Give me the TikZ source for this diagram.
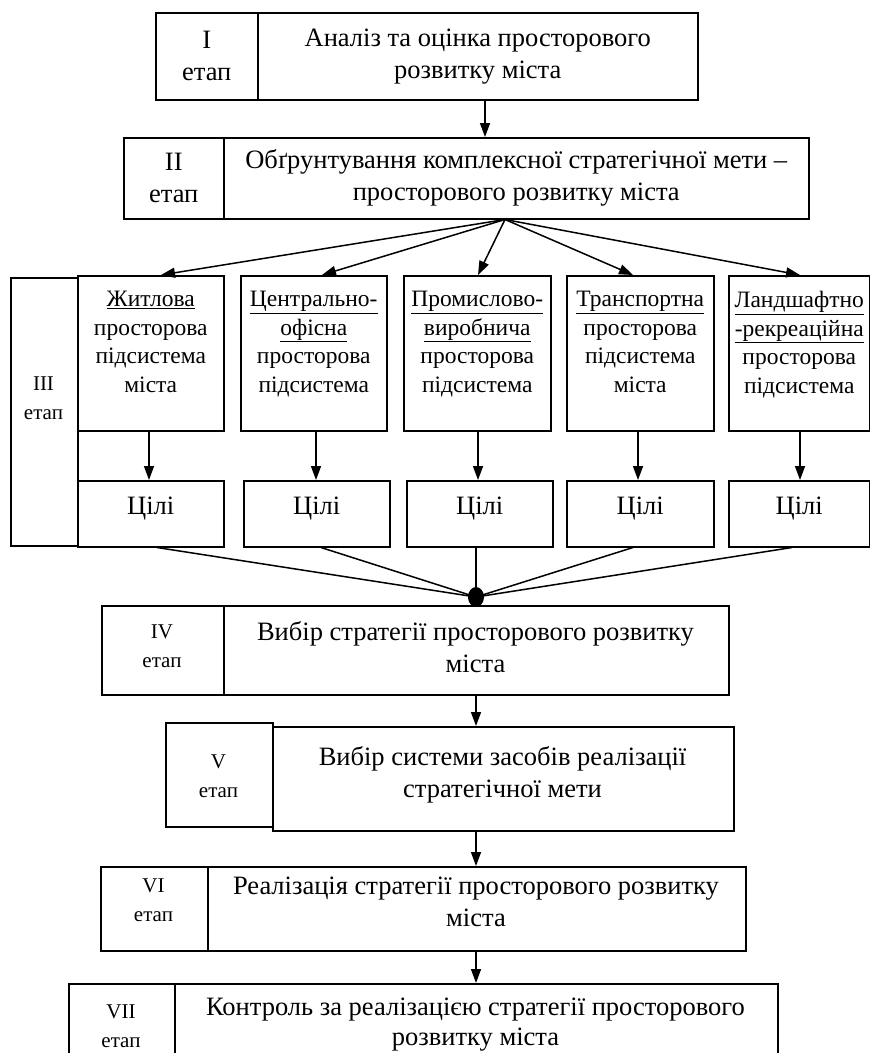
\documentclass[tikz,border=0pt]{standalone}
\usepackage{fontspec}
\setmainfont{Liberation Serif}
\usetikzlibrary{arrows.meta,calc,shapes.geometric}
\begin{document}
\begin{tikzpicture}[x=1pt,y=-1pt,
  box/.style={draw, line width=1.5pt, anchor=north west, inner sep=0pt},
  txt/.style={inner sep=0pt, align=center, font=\fontsize{26.5}{32}\selectfont},
  stxt/.style={inner sep=0pt, align=center, font=\fontsize{23.5}{28.5}\selectfont},
  etxt/.style={inner sep=0pt, align=center, font=\fontsize{21}{29}\selectfont},
  arr/.style={line width=1.5pt, -{Triangle[length=14pt,width=10pt]}},
  ln/.style={line width=1.5pt},
  dot/.style={ellipse, fill=black, inner sep=0pt, minimum width=16pt, minimum height=20pt}]
\useasboundingbox (0,0) rectangle (870,1053);
% Stage I
\node[box, minimum width=102pt, minimum height=87pt] (e1) at (155,12) {};
\node[box, minimum width=440pt, minimum height=87pt] (m1) at (257,12) {};
\node[txt] (e1t) at (e1.center) {I\\етап};
\node[txt] (m1t) at (m1.center) {Аналіз та оцінка просторового\\розвитку міста};
% Stage II
\node[box, minimum width=100pt, minimum height=81pt] (e2) at (123,137) {};
\node[box, minimum width=585pt, minimum height=81pt] (m2) at (223,137) {};
\node[txt] (e2t) at (e2.center) {II\\етап};
\node[txt] (m2t) at (m2.center) {Обґрунтування комплексної стратегічної мети –\\просторового розвитку міста};
% Stage III
\node[box, minimum width=67pt, minimum height=268pt] (e3) at (10,277) {};
\node[etxt] (e3t) at (43.5,398) {III\\етап};
\node[box, minimum width=146pt, minimum height=155pt] (s1) at (77,275) {};
\node[box, minimum width=146pt, minimum height=155pt] (s2) at (240,275) {};
\node[box, minimum width=147pt, minimum height=155pt] (s3) at (403,275) {};
\node[box, minimum width=147pt, minimum height=155pt] (s4) at (566,275) {};
\node[box, minimum width=141pt, minimum height=155pt] (s5) at (728,275) {};
\node[stxt, anchor=north] (t1) at ($(s1.north)+(0,16)$) {\underline{Житлова}\\просторова\\підсистема\\міста};
\node[stxt, anchor=north] (t2) at ($(s2.north)+(0,16)$) {\underline{Центрально-}\\\underline{офісна}\\просторова\\підсистема};
\node[stxt, anchor=north] (t3) at ($(s3.north)+(0,16)$) {\underline{Промислово-}\\\underline{виробнича}\\просторова\\підсистема};
\node[stxt, anchor=north] (t4) at ($(s4.north)+(0,16)$) {\underline{Транспортна}\\просторова\\підсистема\\міста};
\node[stxt, anchor=north] (t5) at ($(s5.north)+(0,16)$) {\underline{Ландшафтно}\\\underline{-рекреаційна}\\просторова\\підсистема};
\node[box, minimum width=146pt, minimum height=66pt] (c1) at (77,480) {};
\node[box, minimum width=146pt, minimum height=66pt] (c2) at (243,480) {};
\node[box, minimum width=146pt, minimum height=66pt] (c3) at (406,480) {};
\node[box, minimum width=147pt, minimum height=66pt] (c4) at (566,480) {};
\node[box, minimum width=141pt, minimum height=66pt] (c5) at (728,480) {};
\foreach \i in {1,...,5} {
  \node[txt] (c\i t) at ($(c\i.center)+(0,-5)$) {Цілі};
}
% Stage IV
\node[box, minimum width=122pt, minimum height=89pt] (e4) at (101,605) {};
\node[box, minimum width=505pt, minimum height=89pt] (m4) at (223,605) {};
\node[etxt] (e4t) at (162,646) {IV\\етап};
\node[txt] (m4t) at (475.5,647) {Вибір стратегії просторового розвитку\\міста};
\node[dot] (j) at (476,597) {};
% Stage V
\node[box, minimum width=107pt, minimum height=104pt] (e5) at (165,722) {};
\node[box, minimum width=461pt, minimum height=104pt] (m5) at (272,726) {};
\node[etxt] (e5t) at (218.5,776) {V\\етап};
\node[txt] (m5t) at (502.5,775) {Вибір системи засобів реалізації\\стратегічної мети};
% Stage VI
\node[box, minimum width=107pt, minimum height=84pt] (e6) at (100,866) {};
\node[box, minimum width=538pt, minimum height=84pt] (m6) at (207,866) {};
\node[etxt] (e6t) at (153.5,900) {VI\\етап};
\node[txt] (m6t) at (476,902) {Реалізація стратегії просторового розвитку\\міста};
% Stage VII
\node[box, minimum width=106pt, minimum height=95pt] (e7) at (68,983) {};
\node[box, minimum width=603pt, minimum height=95pt] (m7) at (174,983) {};
\node[etxt] (e7t) at (121,1026) {VII\\етап};
\node[txt, font=\fontsize{26.5}{30}\selectfont] (m7t) at (475.5,1025) {Контроль за реалізацією стратегії просторового\\розвитку міста};
% x positions of connectors
\coordinate (xa) at (485,0);
\coordinate (xf) at (505,0);
\coordinate (xm) at (476,0);
\coordinate (f1) at (161,0);
\coordinate (f2) at (322,0);
\coordinate (f3) at (478,0);
\coordinate (f4) at (633,0);
\coordinate (f5) at (800,0);
\coordinate (d1) at (149,0);
\coordinate (d2) at (316,0);
\coordinate (d3) at (478,0);
\coordinate (d4) at (638,0);
\coordinate (d5) at (800,0);
\coordinate (g1) at (157,0);
\coordinate (g2) at (321,0);
\coordinate (g3) at (476,0);
\coordinate (g4) at (633,0);
\coordinate (g5) at (792,0);
% connectors
\draw[arr] (m1.south -| xa) -- (m2.north -| xa);
\foreach \i in {1,...,5} {
  \draw[arr] (m2.south -| xf) -- (s\i.north -| f\i);
  \draw[arr] (s\i.south -| d\i) -- (c\i.north -| d\i);
  \draw[ln] (c\i.south -| g\i) -- (j.center);
}
\draw[arr] (m4.south -| xm) -- (m5.north -| xm);
\draw[arr] (m5.south -| xm) -- (m6.north -| xm);
\draw[arr] (m6.south -| xm) -- (m7.north -| xm);
\end{tikzpicture}
\end{document}
